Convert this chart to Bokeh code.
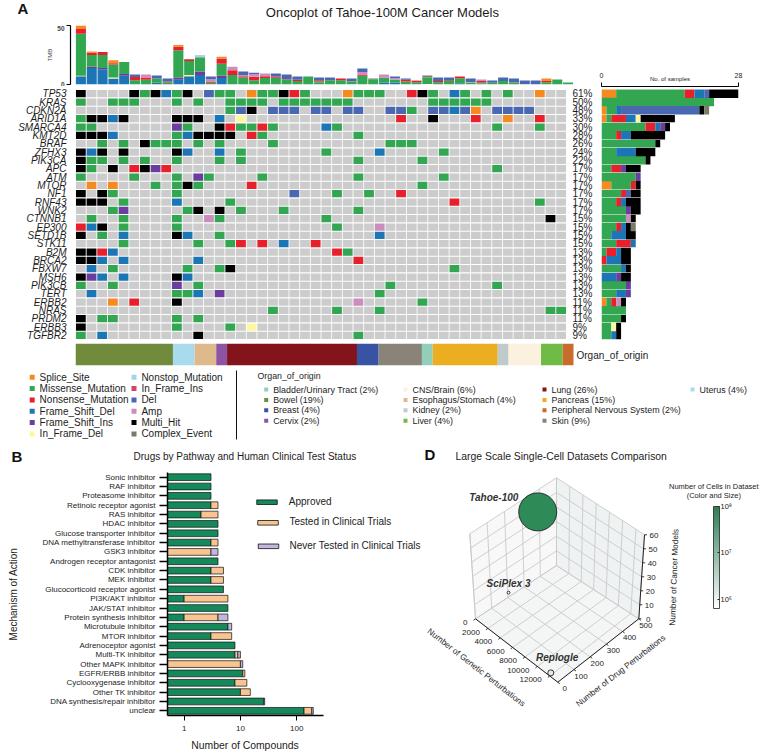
from collections import Counter
from bokeh.embed import file_html
from bokeh.resources import INLINE
from bokeh.layouts import column, row
from bokeh.models import (Range1d, LinearAxis, LogAxis, FixedTicker, Label, LinearScale,
                          ColorBar, LogColorMapper, ColumnDataSource, BasicTickFormatter)
from bokeh.plotting import figure
from bokeh.core.properties import value

FONT = "Liberation Sans"
INK = "#1c1c1c"

# ---------- Panel A data ----------
genes = ["TP53","KRAS","CDKN2A","ARID1A","SMARCA4","KMT2D","BRAF","ZFHX3","PIK3CA","APC","ATM","MTOR","NF1","RNF43","WNK2",
         "CTNNB1","EP300","SETD1B","STK11","B2M","BRCA2","FBXW7","MSH6","PIK3CB","TERT","ERBB2","NRAS","PRDM2","ERBB3","TGFBR2"]
percents = ["61%","50%","48%","33%","30%","28%","26%","24%","22%","17%","17%","17%","17%","17%","17%",
            "15%","15%","15%","15%","13%","13%","13%","13%","13%","13%","11%","11%","11%","9%","9%"]
# code + sample column.  S splice, M missense, N nonsense, F fs-del, I fs-ins, D if-del, E del, A amp, H multi-hit
# X = complex event drawn pink in the matrix, Y = complex event drawn as Del in the matrix
TP53 = "H0 H5 M6 H7 F8 M9 H10 E12 M13 M14 S16 M17 M18 H19 N20 M21 S25 M26 M27 M28 N31 H32 M33 F35 M36 M38 M40 S43"
KRAS = "M0 M3 M4 M5 M9 M11 M14 M15 M16 M17 M19 M20 M21 M22 M23 M24 M25 M33 M34 M35 M36 M37 M38"
CDKN2A = "M14 E15 H16 E18 E19 E20 E22 E23 E25 E26 E29 E30 M31 E33 E34 F35 Y36 S37 E39 E40 E41 E42"
ARID1A = "M0 H1 H2 F3 H4 H9 H10 H11 F13 D15 N30 H33 N37 S40 N43"
SMARCA4 = "M0 M1 I9 M10 H13 N14 M15 M16 N17 M18 F23 M24 M39 M43"
KMT2D = "H0 H1 H2 F3 M9 F10 H11 H12 H13 H14 N16 M17 M26"
BRAF = "M2 M4 H6 M7 M8 M9 M11 M13 M18 M29 M30 M31"
ZFHX3 = "H0 F1 H2 H4 H9 F10 F13 M15 M23 F28 M34"
PIK3CA = "H0 M1 M2 M4 M6 M9 M13 M15 M26 M32"
APC = "H0 M1 H3 N5 H6 I7 N8 M39"
ATM = "M0 M5 M9 I11 M12 M17 M26 M34"
MTOR = "S1 S3 M7 M9 H10 M11 N16 M32"
NF1 = "H0 H2 M3 M9 E20 M24 M27 N30"
RNF43 = "H0 H1 H2 M4 F9 M14 N35 M43"
WNK2 = "M3 I4 M10 H11 H13 M15 M19 M26"
CTNNB1 = "M1 M4 M9 A12 M13 M23 H44"
EP300 = "N0 F1 H2 M4 M9 M24 X28"
SETD1B = "H0 M2 F4 H9 F10 M13 F28"
STK11 = "M4 M11 M14 N15 N17 F19 N22"
B2M = "H0 H1 N2 F3 N24 M25"
BRCA2 = "H0 H1 F2 F4 F11 N26"
FBXW7 = "F1 M3 M10 M13 H14 M35"
MSH6 = "H0 I1 F2 F4 H9 F10"
PIK3CB = "M0 M3 I9 M11 M29 M39"
TERT = "F1 M9 M10 F11 I13 M28"
ERBB2 = "S3 N5 H9 A26 M32"
NRAS = "M18 M24 M28 M44 M45"
PRDM2 = "H0 M2 M3 M9 M11"
ERBB3 = "H0 M9 M14 D16"
TGFBR2 = "M0 F2 H11 M26"
calls = [TP53,KRAS,CDKN2A,ARID1A,SMARCA4,KMT2D,BRAF,ZFHX3,PIK3CA,APC,ATM,MTOR,NF1,RNF43,WNK2,
         CTNNB1,EP300,SETD1B,STK11,B2M,BRCA2,FBXW7,MSH6,PIK3CB,TERT,ERBB2,NRAS,PRDM2,ERBB3,TGFBR2]

tmb_F = [7,14,13,5,7.5,.3,.5,1.5,.5,4, 7,8,0,5.5,0,0,0,0,0,0, 0,0,0,0,0,0,0,0,1.5,1.5, 0,0,0,0,0,1,0,0,0,0, 0,0,0,0,0,0]
tmb_I = [0,1,1,0,1.5,0,0,0,0,2, 0,3,0,2,0,0,0,0,0,0, 0,0,0,0,0,0,0,0,0,0, 0,0,0,0,0,0,0,0,0,0, 0,0,0,0,0,0]
tmb_D = [.5,0,0,1,0,0,0,0,0,0, 1,0,0,0,0,0,0,0,0,0, 0,0,0,0,0,0,0,0,0,0, 0,0,.4,0,0,0,0,0,0,0, 0,0,0,0,0,0]
tmb_M = [35.5,10,11,11,10,3.2,3.5,3.5,1.5,23, 12,12,1.5,10,8,6,3.5,5.5,5.8,4, 3,6.8,2,3.5,3.5,2.5,7.5,4.5,4.2,2.5,
         2.5,2,5.6,2,3,4.3,1.7,1,1.5,3, 1.5,.4,0,2,4.2,1.7]
tmb_C = [0,0,0,0,0,0,0,0,0,0, 0,0,0,0,0,0,0,0,0,0, 0,0,.7,0,0,.5,0,.5,0,0, 0,0,1.6,0,0,0,0,1,0,0, .5,0,0,0,0,0]
tmb_N = [4,2,2.5,1,0,2.8,2,0,.5,3, 1.5,0,1,4.5,4,1,3,1.5,1,.5, 1,0,1,0,1.5,0,.5,0,0,0, 1.5,1.2,0,1,.5,1.5,0,1,0,0, 0,0,0,1,0,0]
tmb_A = [0,0,0,0,0,0,2.5,0,0,0, 0,0,2,0,3,1,2.5,2.3,0,0, 0,0,0,0,0,0,2.5,0,2.8,1.3, 0,.5,0,0,0,0,.5,1.2,0,0, 0,0,0,0,0,0]
tmb_E = [0,0,0,0,0,2.2,0,2.6,2.5,0, 0,0,2.3,0,0,3,1,0,2.5,4, 2.8,0,2.3,2.5,0,2,3,0,0,1.5, 1,0,0,3,2.5,0,2.8,0,1.9,3, 3,3,3.4,0,0,0]
tmb_S = [3,1,0,2.5,0,0,0,0,0,1.5, 0,0,0,1.5,0,0,0,0,0,0, 0,0,0,0,0,0,0,0,0,0, 0,0,0,0,0,0,0,0,0,0, 0,0,0,2,0,0]
tmb_L = [0,0,0,0,0,0,0,0,0,0, 0,2,0,0,0,0,0,0,0,0, 0,0,0,0,0,0,0,0,0,0, 0,0,0,0,0,0,0,0,0,0, 0,0,0,0,0,0]

organ_order = ["Bowel","Uterus","Esophagus/Stomach","Cervix","Lung","Breast","Skin","Bladder/Urinary Tract",
               "Pancreas","Kidney","CNS/Brain","Liver","Peripheral Nervous System"]
organ_samples = [9,2,2,1,12,2,4,1,6,1,3,2,1]
organ_colors = {"Bowel":"#6F8B3B","Uterus":"#A9DBEE","Esophagus/Stomach":"#DDB98C","Cervix":"#8B55A3","Lung":"#84141B",
                "Breast":"#3953A4","Skin":"#8A8478","Bladder/Urinary Tract":"#92CFBA","Pancreas":"#EBAE21","Kidney":"#BFCACA",
                "CNS/Brain":"#FCF0DE","Liver":"#70BB45","Peripheral Nervous System":"#C96B2B"}
organ_legend_a = ["Bladder/Urinary Tract (2%)","Bowel (19%)","Breast (4%)","Cervix (2%)"]
organ_legend_b = ["CNS/Brain (6%)","Esophagus/Stomach (4%)","Kidney (2%)","Liver (4%)"]
organ_legend_c = ["Lung (26%)","Pancreas (15%)","Peripheral Nervous System (2%)","Skin (9%)"]
organ_legend_d = ["Uterus (4%)"]

class_colors = {"S":"#F58A20","M":"#33A652","N":"#E8202B","F":"#1C76B6","I":"#6A3D9E","D":"#FDF7A3","E":"#4A67B1",
                "A":"#CB8DBE","H":"#000000","C":"#7D7A68","L":"#A6D3E6","R":"#CF4767","X":"#CB8DBE","Y":"#4A67B1"}
legend_left = [("Splice_Site","S"),("Missense_Mutation","M"),("Nonsense_Mutation","N"),
               ("Frame_Shift_Del","F"),("Frame_Shift_Ins","I"),("In_Frame_Del","D")]
legend_right = [("Nonstop_Mutation","L"),("In_Frame_Ins","R"),("Del","E"),("Amp","A"),("Multi_Hit","H"),("Complex_Event","C")]

# ---------- Panel B data ----------
moa = ["Sonic inhibitor","RAF inhibitor","Proteasome inhibitor","Retinoic receptor agonist","RAS inhibitor","HDAC inhibitor",
       "Glucose transporter inhibitor","DNA methyltransferase inhibitor","GSK3 inhibitor","Androgen receptor antagonist",
       "CDK inhibitor","MEK inhibitor","Glucocorticoid receptor agonist","PI3K/AKT inhibitor","JAK/STAT inhibitor",
       "Protein synthesis inhibitor","Microtubule inhibitor","MTOR inhibitor","Adrenoceptor agonist","Multi-TK inhibitor",
       "Other MAPK inhibitor","EGFR/ERBB inhibitor","Cyclooxygenase inhibitor","Other TK inhibitor",
       "DNA synthesis/repair inhibitor","unclear"]
approved = [3,3,3,3,2,4,4,3,0,4,3,3,5,1,6,1,6,3,8,8,0,11,8,10,26,135]
tested =   [0,0,0,1,2,0,0,1,3,0,2,2,0,5,0,3,0,4,0,1,10,1,5,5,0,50]
never =    [0,0,0,0,0,0,0,0,1,0,0,0,0,0,0,2,1,0,0,1,1,0,0,0,1,12]

# ---------- Panel D data ----------
g_ticks = [0,2000,4000,6000,8000,10000,12000]
d_ticks = [0,100,200,300,400,500]
c_ticks = [0,10,20,30,40,50,60]
datasets = ["Tahoe-100","SciPlex 3","Replogle"]
ds_genetic = [0,0,12170]
ds_drugs = [390,205,0]
ds_models = [45,3,3]
ds_cells = [1e8,5.8e5,2.5e6]
ds_fill = ["#2E8B57","#F4F8F5","#E3EAE5"]

# ---------- helpers ----------
frames={}
def make(x0,y0,w,h,l,r,t,b,x_range,y_range,**kw):
    p = figure(width=w,height=h,x_range=x_range,y_range=y_range,output_backend="svg",toolbar_location=None,
               min_border_left=l,min_border_right=r,min_border_top=t,min_border_bottom=b,
               outline_line_color=None,x_axis_location=None,y_axis_location=None,frame_align=False,**kw)
    p.xgrid.visible=False; p.ygrid.visible=False
    p.background_fill_color=None; p.border_fill_color="white"
    p.extra_x_ranges={"px":Range1d(x0+l,x0+w-r)}
    p.extra_y_ranges={"px":Range1d(y0+h-b,y0+t)}
    p.extra_x_scales={"px":LinearScale()}
    p.extra_y_scales={"px":LinearScale()}
    frames[p.id]=(x0+l,y0+h-b)
    return p

def band(x0,y0,w,h):
    return make(x0,y0,w,h,0,0,0,0,Range1d(x0,x0+w),Range1d(y0+h,y0))

def lab(p,x,y,t,size,align="left",style="normal",angle=0,color=INK,baseline="middle"):
    fl,fb=frames[p.id]
    p.add_layout(Label(x=x-fl,y=fb-y,x_units="screen",y_units="screen",text=t,text_font=FONT,text_font_size=f"{size}px",
                       text_align=align,text_baseline=baseline,text_font_style=style,text_color=color,
                       angle=angle,angle_units="deg"))

def quiet(ax):
    ax.major_tick_line_color=None; ax.minor_tick_line_color=None; ax.axis_line_color=None

# ---------- header + TMB ----------
head=band(0,0,595,25)
lab(head,17,8,"A",15,style="bold",color="#111")
lab(head,382,12,"Oncoplot of Tahoe-100M Cancer Models",13,align="center")

n_samples=46
tmb_keys=["F","I","D","M","C","N","A","E","S","L"]
tmb_src=ColumnDataSource(dict(x=[i+.5 for i in range(n_samples)],F=tmb_F,I=tmb_I,D=tmb_D,M=tmb_M,C=tmb_C,N=tmb_N,A=tmb_A,E=tmb_E,S=tmb_S,L=tmb_L))
tmb=make(0,25,595,61,70,22,0,2,Range1d(-.462,46),Range1d(0,50))
tmb.vbar_stack(tmb_keys,x="x",width=.93,color=[class_colors[k] for k in tmb_keys],source=tmb_src,line_color=None)
ax=LinearAxis(ticker=FixedTicker(ticks=[0,50]),major_tick_out=4,major_tick_in=0,minor_tick_line_color=None,
              major_label_text_font=FONT,major_label_text_font_size="6.5px",major_label_text_font_style="bold",major_label_standoff=2,
              axis_line_width=1.2,major_tick_line_width=1.2,axis_label="TMB",axis_label_text_font=FONT,
              axis_label_text_font_size="6px",axis_label_text_font_style="normal",axis_label_standoff=1)
tmb.add_layout(ax,"left")

# ---------- matrix ----------
row_y=[30-i-.5 for i in range(30)]
mx,my,mc=[],[],[]
for yy,c in zip(row_y,calls):
    cd={int(tok[1:]):tok[0] for tok in c.split()}
    for k in range(n_samples):
        mx.append(k+.5); my.append(yy); mc.append(class_colors[cd[k]] if k in cd else "#CCCCCC")
mat=make(0,86,595,255,75,22,3,2,Range1d(0,46),Range1d(0,30))
mat.rect(x=mx,y=my,width=.92,height=.87,color=mc,line_color=None)
la=LinearAxis(ticker=FixedTicker(ticks=row_y),major_label_overrides=dict(zip(row_y,genes)),major_label_standoff=3,
              major_label_text_font=FONT,major_label_text_font_size="10px",major_label_text_font_style="italic",major_label_text_color=INK)
quiet(la); mat.add_layout(la,"left")
ra=LinearAxis(ticker=FixedTicker(ticks=row_y),major_label_overrides=dict(zip(row_y,percents)),major_label_standoff=0,
              major_label_text_font=FONT,major_label_text_font_size="10px",major_label_text_color=INK)
quiet(ra); mat.add_layout(ra,"right")

# ---------- side bars ----------
side_keys=["S","M","N","F","I","D","E","A","H","C"]
side_data={k:[] for k in side_keys}
for c in calls:
    cnt=Counter(tok[0] for tok in c.split())
    cnt["C"]+=cnt["X"]+cnt["Y"]
    for k in side_keys: side_data[k].append(cnt[k])
side_data["y"]=row_y
side_data["h"]=[.86 if i and i%3==0 else 1.02 for i in range(30)]
side=make(595,0,169,341,6,26,86,2,Range1d(0,28),Range1d(0,30.36))
side.hbar_stack(side_keys,y="y",height="h",color=[class_colors[k] for k in side_keys],source=ColumnDataSource(side_data),line_color=None)
sa=LinearAxis(ticker=FixedTicker(ticks=[0,28]),major_tick_out=4,major_tick_in=0,minor_tick_line_color=None,major_label_standoff=5,
              major_label_text_font=FONT,major_label_text_font_size="7px",major_label_text_color=INK,
              axis_label="No. of samples",axis_label_text_font=FONT,axis_label_text_font_size="6px",
              axis_label_text_font_style="normal",axis_label_text_color=INK,axis_label_standoff=-12)
side.add_layout(sa,"above")

# ---------- organ bar (frame runs on to the right so that its label has room) ----------
col_px=498/46
org=make(0,341,764,26,75,0,2,2,Range1d(0,689/col_px),Range1d(0,1))
start=0
for name,cnt in zip(organ_order,organ_samples):
    org.hbar(y=[.5],left=[start],right=[start+cnt],height=1,color=organ_colors[name],line_color=None)
    start+=cnt
lab(org,576,354.5,"Organ_of_origin",10)

# ---------- legends ----------
leg=band(0,367,764,79)
for col_x,items in ((31.7,legend_left),(133.5,legend_right)):
    for i,(name,key) in enumerate(items):
        yy=376.7+11.35*i
        leg.rect(x=[col_x],y=[yy],width=5,height=5,color=class_colors[key],line_color=None)
        lab(leg,col_x+7.4,yy,name,10)
leg.line(x=[236,236],y=[370,439],line_color="#111",line_width=1)
lab(leg,257,375,"Organ_of_origin",8.8)
for col_x,items in ((265.7,organ_legend_a),(405,organ_legend_b),(544,organ_legend_c),(692,organ_legend_d)):
    for i,txt in enumerate(items):
        yy=389+10.4*i
        nm=txt.rsplit(" (",1)[0]
        leg.rect(x=[col_x],y=[yy],width=4,height=4,color=organ_colors[nm],line_color=None)
        lab(leg,col_x+7,yy,txt,8.9)

# ---------- Panel B ----------
lo,axis_hi=.507,298
decade_px=56.3
hi=lo*10**(255/decade_px)
n_moa=len(moa)
moa_y=[n_moa-i-.5 for i in range(n_moa)]
head_b=band(0,446,422,26)
lab(head_b,11,456,"B",15,style="bold",color="#111")
lab(head_b,244.5,456,"Drugs by Pathway and Human Clinical Test Status",10,align="center")
bp=make(0,472,422,266,167,0,0,23,Range1d(lo,hi),Range1d(0,n_moa),x_axis_type="log")
seg_colors=["#16895A","#F8C48F","#C3B6DB"]
cum=[0]*n_moa
for vals,colr in zip((approved,tested,never),seg_colors):
    newcum=[a+b for a,b in zip(cum,vals)]
    ys=[m for m,v in zip(moa_y,vals) if v>0]
    ls=[max(a,lo) for a,v in zip(cum,vals) if v>0]
    rs=[b for b,v in zip(newcum,vals) if v>0]
    bp.hbar(y=ys,left=ls,right=rs,height=.72,fill_color=colr,line_color="#111",line_width=.7)
    cum=newcum
ya=LinearAxis(ticker=FixedTicker(ticks=moa_y),major_label_overrides=dict(zip(moa_y,moa)),minor_tick_line_color=None,
              major_tick_out=8,major_tick_in=0,major_label_standoff=4,major_tick_line_width=1.3,axis_line_width=1.5,
              major_label_text_font=FONT,major_label_text_font_size="8px",major_label_text_color=INK,
              axis_label="Mechanism of Action",axis_label_text_font=FONT,axis_label_text_font_size="10px",
              axis_label_text_font_style="normal",axis_label_text_color=INK,axis_label_standoff=21)
bp.add_layout(ya,"left")
xa=LogAxis(ticker=FixedTicker(ticks=[1,10,100]),formatter=BasicTickFormatter(),major_tick_out=5,major_tick_in=0,major_label_standoff=5,
           minor_tick_line_color=None,major_tick_line_width=1,axis_line_width=1.5,bounds=(lo,axis_hi),
           major_label_text_font=FONT,major_label_text_font_size="8px",major_label_text_color=INK)
bp.add_layout(xa,"below")
for sx,sy,colr,txt,ty,tx in ((266.5,501.7,seg_colors[0],"Approved",501.3,288.3),
                              (267.5,522.3,seg_colors[1],"Tested in Clinical Trials",521.3,289),
                              (268,545.8,seg_colors[2],"Never Tested in Clinical Trials",545.3,289)):
    bp.rect(x=[sx],y=[sy],width=20.5,height=4.6,fill_color=colr,line_color="#111",line_width=.8,x_range_name="px",y_range_name="px")
    lab(bp,tx,ty,txt,10)
foot_b=band(0,738,422,14)
lab(foot_b,244.5,745,"Number of Compounds",10.4,align="center")

# ---------- Panel D ----------
dp=band(422,446,342,306)
gmax,dmax,cmax=13300.,500.,60.
L,B,R,K=(475,618.3),(557.3,681.7),(638.3,618.3),(556,565)
LT,BT,RT,KT=(469.3,533.3),(557.3,603),(644,534.3),(556,477.3)
def bil(a,b,c,d,u,v,i):
    return a[i]*(1-u)*(1-v)+b[i]*u*(1-v)+c[i]*u*v+d[i]*(1-u)*v
def proj(g,d,c):
    u,v,w=g/gmax,d/dmax,c/cmax
    return tuple(bil(L,B,R,K,u,v,i)*(1-w)+bil(LT,BT,RT,KT,u,v,i)*w for i in (0,1))
def seg(p0,p1):
    a,b=proj(*p0),proj(*p1); return [a[0],b[0]],[a[1],b[1]]
def face(pts,colr):
    xy=[proj(*q) for q in pts]
    dp.patch([q[0] for q in xy],[q[1] for q in xy],fill_color=colr,line_color=None)
face([(0,0,0),(gmax,0,0),(gmax,dmax,0),(0,dmax,0)],"#F4F5F5")
face([(0,0,0),(0,dmax,0),(0,dmax,cmax),(0,0,cmax)],"#F8F8F8")
face([(0,dmax,0),(gmax,dmax,0),(gmax,dmax,cmax),(0,dmax,cmax)],"#EFF2F2")
xs,ys=[],[]
def add(p0,p1):
    a,b=seg(p0,p1); xs.append(a); ys.append(b)
for g in g_ticks+[gmax]:
    add((g,0,0),(g,dmax,0)); add((g,dmax,0),(g,dmax,cmax))
for d in d_ticks:
    add((0,d,0),(gmax,d,0)); add((0,d,0),(0,d,cmax))
for c in c_ticks:
    add((0,0,c),(0,dmax,c)); add((0,dmax,c),(gmax,dmax,c))
add((0,0,0),(0,0,cmax))
dp.multi_line(xs,ys,line_color="#C9C9C9",line_width=.9)
# axes
ex,ey=[],[]
for a,b in (((0,0,0),(gmax,0,0)),((gmax,0,0),(gmax,dmax,0)),((gmax,dmax,0),(gmax,dmax,cmax))):
    s=seg(a,b); ex.append(s[0]); ey.append(s[1])
dp.multi_line(ex,ey,line_color="#222",line_width=1)
tx,ty=[],[]
for g in g_ticks:
    a=proj(g,0,0); tx.append([a[0],a[0]-2]); ty.append([a[1],a[1]+1.5])
for d in d_ticks:
    a=proj(gmax,d,0); tx.append([a[0],a[0]+2]); ty.append([a[1],a[1]+1.5])
for c in c_ticks:
    a=proj(gmax,dmax,c); tx.append([a[0],a[0]+2.5]); ty.append([a[1],a[1]])
dp.multi_line(tx,ty,line_color="#222",line_width=.9)
def tick_text(ticks,pts,dx,dy,align):
    dp.text(x=[q[0]+dx for q in pts],y=[q[1]+dy for q in pts],text=[str(t) for t in ticks],text_font=value(FONT),
            text_font_size="8px",text_color=INK,text_align=align,text_baseline="middle")
tick_text(g_ticks,[proj(g,0,0) for g in g_ticks],-8,3.7,"right")
tick_text(d_ticks,[proj(gmax,d,0) for d in d_ticks],7,6.5,"center")
tick_text(c_ticks,[proj(gmax,dmax,c) for c in c_ticks],9.5,1,"center")
lab(dp,476,666.7,"Number of Genetic Perturbations",8.3,align="center",angle=-38)
lab(dp,620,670,"Number of Drug Perturbations",8.3,align="center",angle=38)
lab(dp,673.3,576.7,"Number of Cancer Models",8.3,align="center",angle=88)
pts=[proj(a,b,c) for a,b,c in zip(ds_genetic,ds_drugs,ds_models)]
dp.scatter(x=[q[0] for q in pts],y=[q[1] for q in pts],size=[38*(n/1e8)**.5 for n in ds_cells],fill_color=ds_fill,
           line_color="#222",line_width=.9,marker="circle")
lab(dp,493.3,497.3,datasets[0],10,align="center",style="bold italic",color="#333")
lab(dp,508,583.3,datasets[1],10,align="center",style="bold italic",color="#333")
lab(dp,556.7,657.3,datasets[2],10,align="center",style="bold italic",color="#333")
lab(dp,424,454,"D",15,style="bold",color="#111")
lab(dp,560.7,456,"Large Scale Single-Cell Datasets Comparison",10.4,align="center")
lab(dp,713.3,486,"Number of Cells in Dataset",7.5,align="center")
lab(dp,713.3,495,"(Color and Size)",7.5,align="center")
def mix(t):
    a,b=(255,255,255),(46,125,85)
    return "#%02x%02x%02x"%tuple(round(a[i]+(b[i]-a[i])*t) for i in range(3))
palette=[mix(i/255) for i in range(256)]
mapper=LogColorMapper(palette=palette,low=6.3e5,high=1e8)
cb=ColorBar(color_mapper=mapper,width=6,height=102,padding=0,margin=0,location=(291,144),background_fill_color=None,
            ticker=FixedTicker(ticks=[1000000,10000000,100000000]),major_label_overrides={1000000:"10⁶",10000000:"10⁷",100000000:"10⁸"},
            major_label_text_font=FONT,major_label_text_font_size="7.5px",major_label_text_color=INK,label_standoff=1,
            major_tick_line_color="#222",major_tick_in=2,bar_line_color="#222",bar_line_width=.8,minor_tick_line_color=None)
dp.add_layout(cb)

left_a=column(head,tmb,mat,spacing=0)
left_b=column(head_b,bp,foot_b,spacing=0)
root=column(row(left_a,side,spacing=0),org,leg,row(left_b,dp,spacing=0),spacing=0)
open("out.html","w").write(file_html(root,INLINE))
